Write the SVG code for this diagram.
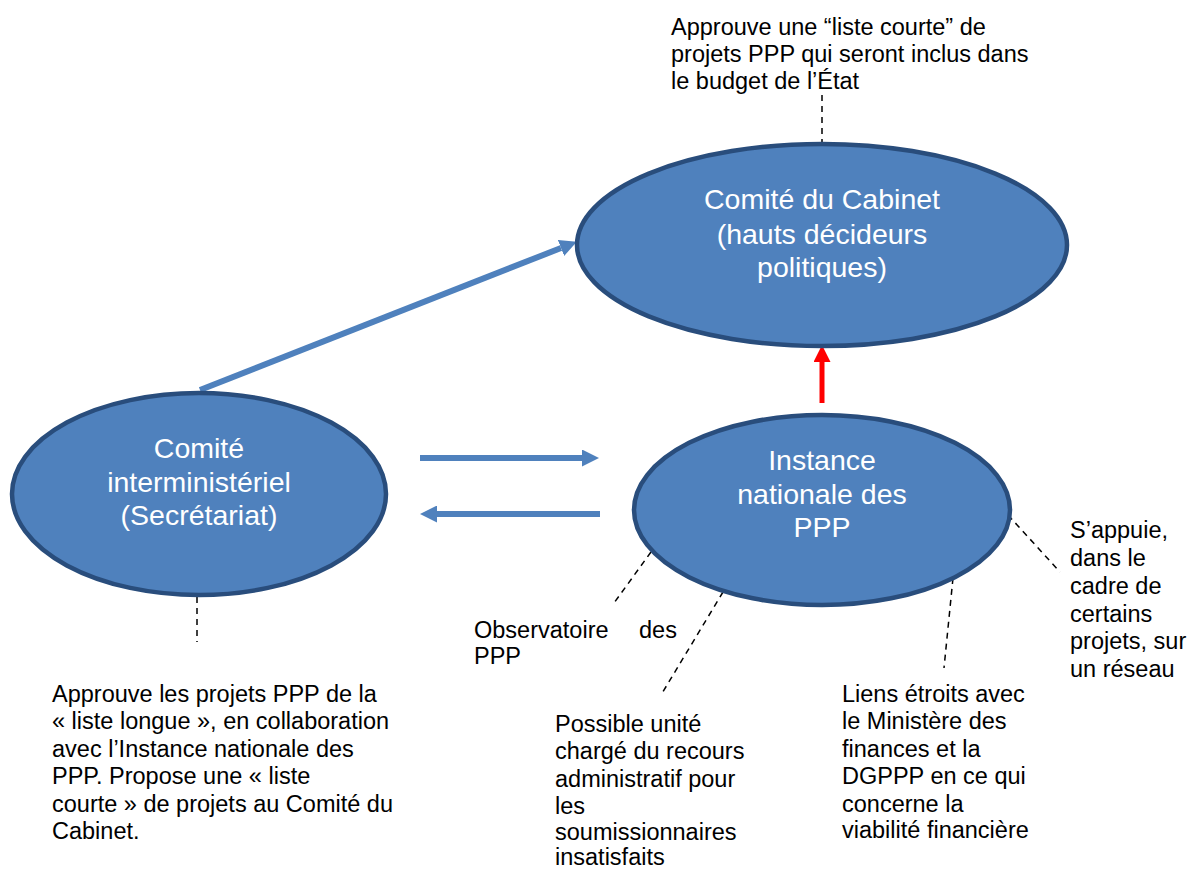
<svg xmlns="http://www.w3.org/2000/svg" width="1190" height="870" viewBox="0 0 1190 870">
<style>
.node{fill:#4F81BD;stroke:#294D7C;stroke-width:4.5}
.nt{font-family:"Liberation Sans",Arial,sans-serif;font-size:28.5px;fill:#FFFFFF;text-anchor:middle}
.lb{font-family:"Liberation Sans",Arial,sans-serif;font-size:23.5px;fill:#000000}
.dash{stroke:#000000;stroke-width:1.5;stroke-dasharray:6,5;fill:none}
.blue{stroke:#4F81BD;stroke-width:6;fill:none}
.red{stroke:#FF0000;stroke-width:5;fill:none}
</style>
<defs>
<marker id="ab" markerUnits="userSpaceOnUse" markerWidth="17" markerHeight="17" refX="0" refY="8.5" orient="auto"><path d="M0,0 L17,8.5 L0,17 z" fill="#4F81BD"/></marker>
<marker id="ar" markerUnits="userSpaceOnUse" markerWidth="17" markerHeight="17" refX="0" refY="8.5" orient="auto"><path d="M0,0 L17,8.5 L0,17 z" fill="#FF0000"/></marker>
</defs>
<rect width="1190" height="870" fill="#FFFFFF"/>
<g id="connectors">
<line class="blue" x1="200" y1="390" x2="561" y2="248" marker-end="url(#ab)"/>
<line class="blue" x1="420" y1="458" x2="582" y2="458" marker-end="url(#ab)"/>
<line class="blue" x1="600" y1="514" x2="437" y2="514" marker-end="url(#ab)"/>
<line class="red" x1="822" y1="403" x2="822" y2="362" marker-end="url(#ar)"/>
<line class="dash" x1="822" y1="95" x2="822" y2="143"/>
<line class="dash" x1="197" y1="597" x2="197" y2="642"/>
<line class="dash" x1="651" y1="552" x2="614" y2="603"/>
<line class="dash" x1="723" y1="592" x2="661" y2="695"/>
<line class="dash" x1="953" y1="578" x2="944" y2="668"/>
<line class="dash" x1="1008" y1="515" x2="1060" y2="572"/>
</g>
<g id="node-cabinet">
<ellipse class="node" cx="822" cy="245" rx="245" ry="101"/>
<text class="nt" x="822" y="209">Comité du Cabinet</text>
<text class="nt" x="822" y="244">(hauts décideurs</text>
<text class="nt" x="822" y="277">politiques)</text>
</g>
<g id="node-interministeriel">
<ellipse class="node" cx="199" cy="494" rx="187" ry="101"/>
<text class="nt" x="199" y="458">Comité</text>
<text class="nt" x="199" y="492">interministériel</text>
<text class="nt" x="199" y="525">(Secrétariat)</text>
</g>
<g id="node-instance">
<ellipse class="node" cx="822" cy="510" rx="188" ry="95"/>
<text class="nt" x="822" y="470">Instance</text>
<text class="nt" x="822" y="504">nationale des</text>
<text class="nt" x="822" y="537">PPP</text>
</g>
<g id="labels">
<text class="lb" x="671" y="35">Approuve une “liste courte” de</text>
<text class="lb" x="671" y="62">projets PPP qui seront inclus dans</text>
<text class="lb" x="671" y="89">le budget de l’État</text>
<text class="lb" x="52" y="702">Approuve les projets PPP de la</text>
<text class="lb" x="52" y="729">« liste longue », en collaboration</text>
<text class="lb" x="52" y="757">avec l’Instance nationale des</text>
<text class="lb" x="52" y="784">PPP. Propose une « liste</text>
<text class="lb" x="52" y="812">courte » de projets au Comité du</text>
<text class="lb" x="52" y="839">Cabinet.</text>
<text class="lb" x="474" y="638">Observatoire</text>
<text class="lb" x="639" y="638">des</text>
<text class="lb" x="474" y="664">PPP</text>
<text class="lb" x="555" y="732">Possible unité</text>
<text class="lb" x="555" y="759">chargé du recours</text>
<text class="lb" x="555" y="787">administratif pour</text>
<text class="lb" x="555" y="814">les</text>
<text class="lb" x="555" y="840">soumissionnaires</text>
<text class="lb" x="555" y="865">insatisfaits</text>
<text class="lb" x="842" y="702">Liens étroits avec</text>
<text class="lb" x="842" y="729">le Ministère des</text>
<text class="lb" x="842" y="757">finances et la</text>
<text class="lb" x="842" y="784">DGPPP en ce qui</text>
<text class="lb" x="842" y="812">concerne la</text>
<text class="lb" x="842" y="838">viabilité financière</text>
<text class="lb" x="1070" y="538">S’appuie,</text>
<text class="lb" x="1070" y="566">dans le</text>
<text class="lb" x="1070" y="594">cadre de</text>
<text class="lb" x="1070" y="622">certains</text>
<text class="lb" x="1070" y="649">projets, sur</text>
<text class="lb" x="1070" y="677">un réseau</text>
</g>
</svg>
